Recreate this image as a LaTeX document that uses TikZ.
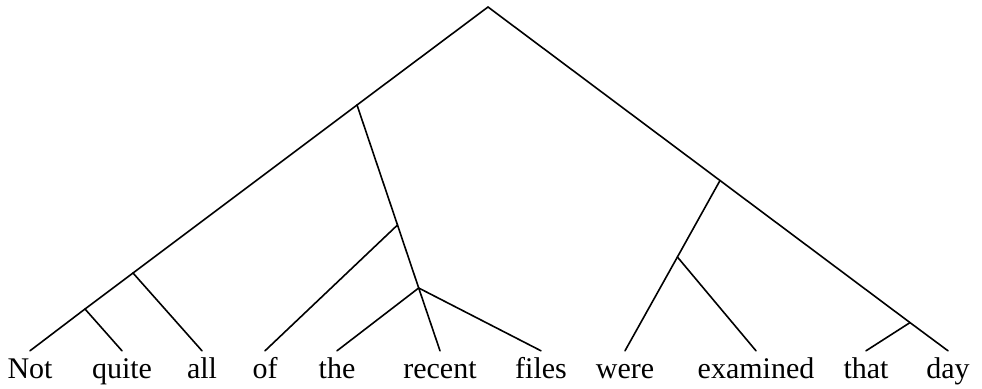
\documentclass[tikz,border=0pt]{standalone}
\usepackage{fontspec}
\setmainfont{Liberation Serif}
\usepackage{tikz}
\usetikzlibrary{positioning,calc}

\tikzset{
  word/.style={anchor=base, inner xsep=0pt, inner ysep=8pt, text height=19pt, text depth=0pt, font=\fontsize{30}{36}\selectfont},
  branch/.style={line width=1.6pt, line cap=round, line join=round}
}

\begin{document}
\begin{tikzpicture}[x=1pt, y=-1pt]
        \useasboundingbox (0, 0) rectangle (982, 388);
        % words
        \node [word] (Not) at (30, 378) {Not}; \node [word] (quite) at (122, 378) {quite};
        \node [word] (all) at (202, 378) {all}; \node [word] (of) at (265, 378) {of};
        \node [word] (the) at (337, 378) {the}; \node [word] (recent) at (440, 378) {recent};
        \node [word] (files) at (541, 378) {files}; \node [word] (were) at (625, 378) {were};
        \node [word] (examined) at (756, 378) {examined}; \node [word] (that) at (866, 378) {that};
        \node [word] (day) at (948, 378) {day};

        % branching points
        \coordinate (root) at (488, 7);
        \coordinate (a) at (357, 105); \coordinate (b) at (133, 273); \coordinate (c) at (85, 309);
        \coordinate (e) at (397.5, 225); \coordinate (d) at (418.7, 288);
        \coordinate (f) at (720, 180.5); \coordinate (g) at (677.4, 257); \coordinate (h) at (910, 322.6);

        % left half
        \draw [branch] (root) -- (a) -- (b) -- (c) -- (Not.north);
        \draw [branch] (c) -- (quite.north);
        \draw [branch] (b) -- (all.north);
        \draw [branch] (a) -- (e) -- (d) -- (recent.north);
        \draw [branch] (e) -- (of.north);
        \draw [branch] (d) -- (the.north); \draw [branch] (d) -- (files.north);

        % right half
        \draw [branch] (root) -- (f) -- (h) -- (day.north);
        \draw [branch] (f) -- (g) -- (were.north);
        \draw [branch] (g) -- (examined.north);
        \draw [branch] (h) -- (that.north);
\end{tikzpicture}
\end{document}
